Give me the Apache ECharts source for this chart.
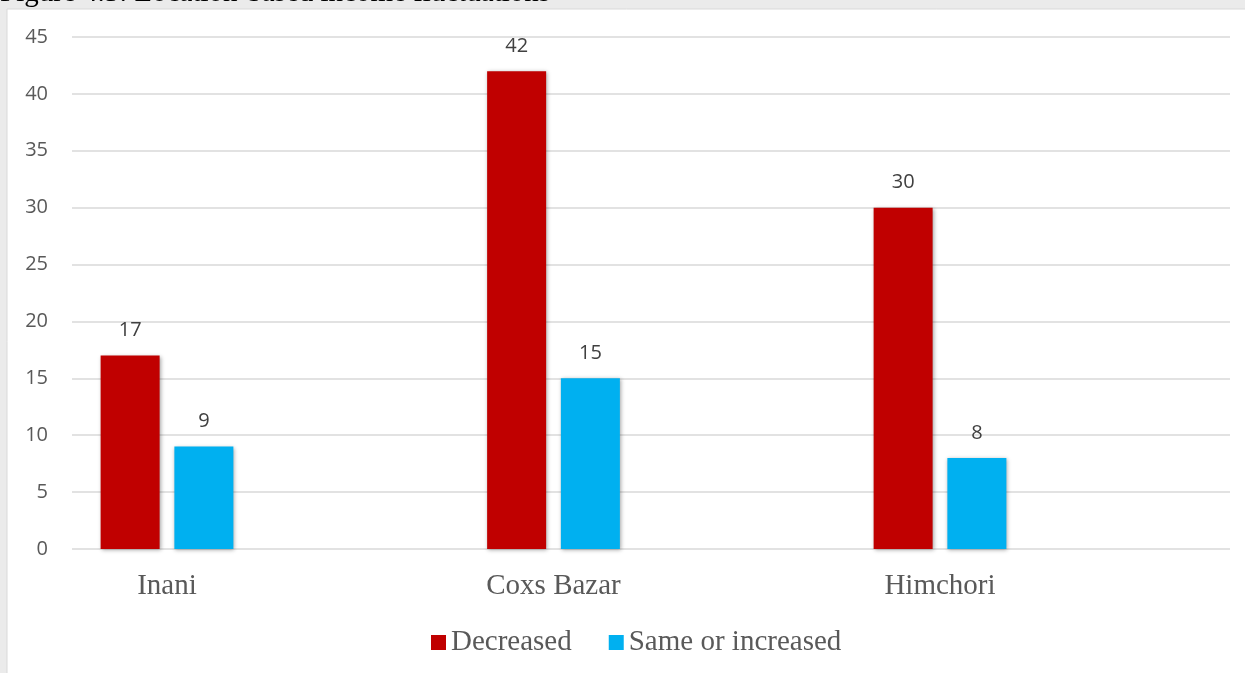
<!DOCTYPE html>
<html>
<head>
<meta charset="utf-8">
<style>
  html, body { margin: 0; padding: 0; background: #ebebeb; }
  #chart { width: 1245px; height: 673px; }
</style>
<script src="https://cdn.jsdelivr.net/npm/echarts@6/dist/echarts.min.js"></script>
</head>
<body>
<div id="chart"></div>
<script>
// Location-based income fluctuations (number of respondents)
const locations = ['Inani', 'Coxs Bazar', 'Himchori'];
const decreased = [17, 42, 30];
const sameOrIncreased = [9, 15, 8];
const seriesNames = ['Decreased', 'Same or increased'];
const yTicks = { min: 0, max: 45, step: 5 };
const figureTitle = 'Figure 4.5: Location-based income fluctuations';

const RED = '#C00000';
const BLUE = '#00B0F0';
const serif = '"Liberation Serif", "Times New Roman", serif';
const sans = '"Open Sans", "Noto Sans", sans-serif';

const chart = echarts.init(document.getElementById('chart'), null, { renderer: 'canvas' });

const barStyle = (color) => ({
  color: color,
  shadowColor: 'rgba(0,0,0,0.35)',
  shadowBlur: 4,
  shadowOffsetX: 1,
  shadowOffsetY: 1
});

const valueLabel = {
  show: true,
  position: 'top',
  distance: 15,
  color: '#404040',
  fontFamily: sans,
  fontSize: 20
};

chart.setOption({
  animation: false,
  backgroundColor: '#ebebeb',
  graphic: [
    {
      type: 'rect',
      z: -10,
      shape: { x: 7, y: 9, width: 1245, height: 673 },
      style: { fill: '#ffffff', stroke: '#d9d9d9', lineWidth: 1 }
    },
    {
      type: 'text',
      z: -5,
      left: 0,
      top: -21,
      style: {
        text: figureTitle,
        fill: '#000000',
        font: '29px ' + serif
      }
    }
  ],
  legend: {
    data: seriesNames,
    left: 426,
    top: 623,
    itemWidth: 15,
    itemHeight: 15,
    itemGap: 37,
    icon: 'rect',
    textStyle: { color: '#595959', fontFamily: serif, fontSize: 29 }
  },
  grid: [
    // value grid: gridlines and y labels
    { left: 72, right: 15, top: 37, bottom: 124 },
    // category grid: bars centred on the first and last category
    { left: 167, right: 305, top: 37, bottom: 124 }
  ],
  xAxis: [
    { type: 'category', gridIndex: 0, data: locations, show: false },
    {
      type: 'category',
      gridIndex: 1,
      data: locations,
      boundaryGap: false,
      axisLine: { show: false },
      axisTick: { show: false },
      splitLine: { show: false },
      axisLabel: { color: '#595959', fontFamily: serif, fontSize: 29, margin: 23 }
    }
  ],
  yAxis: [
    {
      type: 'value',
      gridIndex: 0,
      min: yTicks.min,
      max: yTicks.max,
      interval: yTicks.step,
      axisLine: { show: false },
      axisTick: { show: false },
      axisLabel: { color: '#595959', fontFamily: sans, fontSize: 20, margin: 24 },
      splitLine: { lineStyle: { color: '#d9d9d9', width: 1.5 } }
    },
    {
      type: 'value',
      gridIndex: 1,
      min: yTicks.min,
      max: yTicks.max,
      interval: yTicks.step,
      show: false,
      splitLine: { show: false }
    }
  ],
  series: [
    {
      name: seriesNames[0],
      type: 'bar',
      xAxisIndex: 1,
      yAxisIndex: 1,
      data: decreased,
      barWidth: 59,
      barGap: '25%',
      itemStyle: barStyle(RED),
      label: valueLabel
    },
    {
      name: seriesNames[1],
      type: 'bar',
      xAxisIndex: 1,
      yAxisIndex: 1,
      data: sameOrIncreased,
      barWidth: 59,
      barGap: '25%',
      itemStyle: barStyle(BLUE),
      label: valueLabel
    }
  ]
});
</script>
</body>
</html>
